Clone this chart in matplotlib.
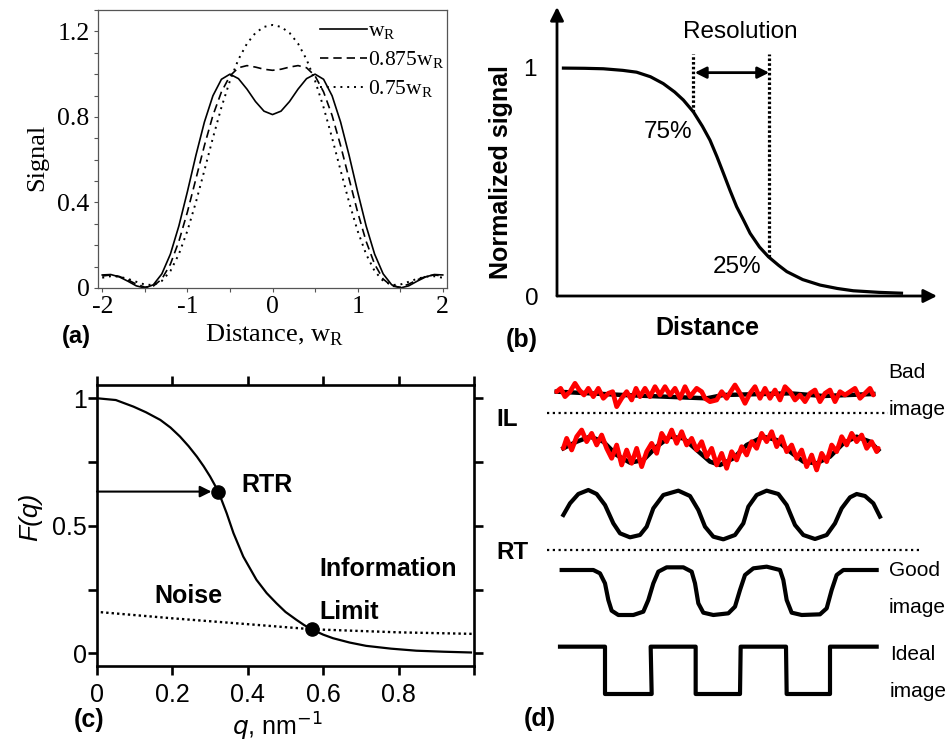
import matplotlib
matplotlib.use("Agg")
import matplotlib.pyplot as plt
from matplotlib.ticker import MultipleLocator

SERIF = "Liberation Serif"
SANS = "Liberation Sans"
plt.rcParams["font.family"] = SANS

W, H = 948, 746

# ---- (a) signal of two point sources, three separations ----
a_dist = [-2.0, -1.9, -1.8, -1.7, -1.6, -1.5, -1.4, -1.3, -1.2, -1.1, -1.0,
          -0.9, -0.8, -0.7, -0.6, -0.5, -0.4, -0.3, -0.2, -0.1, 0.0,
          0.1, 0.2, 0.3, 0.4, 0.5, 0.6, 0.7, 0.8, 0.9, 1.0,
          1.1, 1.2, 1.3, 1.4, 1.5, 1.6, 1.7, 1.8, 1.9, 2.0]
a_wr = [0.061, 0.063, 0.052, 0.032, 0.010, 0.000, 0.015, 0.066, 0.158, 0.290, 0.450,
        0.620, 0.776, 0.899, 0.976, 1.000, 0.979, 0.930, 0.872, 0.827, 0.811,
        0.827, 0.872, 0.930, 0.979, 1.000, 0.976, 0.899, 0.776, 0.620, 0.450,
        0.290, 0.158, 0.066, 0.015, 0.000, 0.010, 0.032, 0.052, 0.063, 0.061]
a_w0875 = [0.056, 0.061, 0.054, 0.038, 0.018, 0.004, 0.009, 0.042, 0.111, 0.218, 0.355,
           0.510, 0.666, 0.807, 0.917, 0.992, 1.030, 1.040, 1.033, 1.023, 1.018,
           1.023, 1.033, 1.040, 1.030, 0.992, 0.917, 0.807, 0.666, 0.510, 0.355,
           0.218, 0.111, 0.042, 0.009, 0.004, 0.018, 0.038, 0.054, 0.061, 0.056]
a_w075 = [0.048, 0.055, 0.053, 0.043, 0.029, 0.016, 0.014, 0.033, 0.079, 0.158, 0.267,
          0.401, 0.550, 0.702, 0.845, 0.969, 1.069, 1.143, 1.193, 1.221, 1.230,
          1.221, 1.193, 1.143, 1.069, 0.969, 0.845, 0.702, 0.550, 0.401, 0.267,
          0.158, 0.079, 0.033, 0.014, 0.016, 0.029, 0.043, 0.053, 0.055, 0.048]
a_labels = [r"w$_\mathregular{R}$", r"0.875w$_\mathregular{R}$", r"0.75w$_\mathregular{R}$"]

# ---- (b) edge profile ----
b_dist = [0.14, 0.8, 1.34, 1.9, 2.30, 2.7, 3.07, 3.4, 3.65, 3.94, 4.2, 4.42, 4.62, 4.81,
          5.0, 5.19, 5.4, 5.58, 5.85, 6.11, 6.4, 6.64, 7.1, 7.6, 8.1, 8.56, 9.3, 10.0]
b_signal = [1.0, 0.999, 0.997, 0.99, 0.982, 0.962, 0.932, 0.895, 0.86, 0.808, 0.745, 0.684,
            0.612, 0.538, 0.463, 0.392, 0.33, 0.275, 0.215, 0.172, 0.135, 0.107, 0.072,
            0.048, 0.033, 0.023, 0.016, 0.012]
b_marks_x = [3.94, 6.13]      # 75% and 25% points
b_marks_y = [0.808, 0.172]
b_marks_txt = ["75%", "25%"]

# ---- (c) transfer function ----
c_q = [0.0, 0.05, 0.097, 0.13, 0.168, 0.195, 0.22, 0.243, 0.265, 0.283, 0.30, 0.322,
       0.344, 0.362, 0.388, 0.423, 0.45, 0.476, 0.50, 0.529, 0.55, 0.569, 0.60,
       0.626, 0.67, 0.714, 0.78, 0.847, 0.92, 0.992]
c_F = [1.0, 0.993, 0.967, 0.945, 0.915, 0.885, 0.85, 0.812, 0.771, 0.733, 0.693, 0.634,
       0.549, 0.471, 0.379, 0.288, 0.236, 0.196, 0.162, 0.131, 0.110, 0.094, 0.073,
       0.059, 0.042, 0.029, 0.018, 0.010, 0.006, 0.003]
c_noise_q = [0.01, 0.2, 0.4, 0.571, 0.8, 0.996]
c_noise_F = [0.161, 0.137, 0.114, 0.094, 0.082, 0.076]
c_pts_q = [0.322, 0.571]     # RTR, information limit
c_pts_F = [0.634, 0.094]

# ---- (d) sketched line profiles (arbitrary units, y downward) ----
d_bad1_x = [200, 400, 650, 700, 900, 1000, 1150]
d_bad1_y = [65, 75, 85, 75, 70, 78, 72]
d_noise1_x = [200, 212, 225, 240, 255, 268, 282, 295, 310, 325,
              340, 355, 368, 380, 395, 410, 425, 438, 450, 465,
              480, 495, 510, 525, 540, 555, 570, 585, 600, 620,
              635, 645, 660, 680, 695, 710, 722, 735, 750, 765,
              780, 795, 810, 825, 840, 855, 870, 885, 900, 915,
              930, 945, 960, 975, 990, 1005, 1020, 1035, 1050, 1065,
              1080, 1095, 1110, 1125, 1140, 1150]
d_noise1_y = [65, 55, 80, 65, 40, 60, 75, 55, 80, 55,
              85, 70, 65, 110, 85, 65, 90, 55, 80, 55,
              80, 50, 75, 50, 75, 55, 85, 50, 80, 55,
              65, 85, 95, 90, 65, 85, 65, 45, 70, 100,
              70, 50, 85, 55, 85, 60, 90, 50, 65, 90,
              75, 95, 70, 60, 95, 70, 60, 95, 65, 75,
              65, 55, 85, 70, 55, 75]
d_bad2_x = [220, 260, 300, 340, 380, 420, 460, 500, 540, 580, 620, 660, 690,
            730, 770, 820, 860, 900, 940, 980, 1020, 1060, 1100, 1140, 1165]
d_bad2_y = [235, 215, 200, 215, 255, 278, 270, 230, 200, 205, 240, 275, 285,
            265, 225, 200, 210, 245, 275, 280, 260, 220, 200, 215, 240]
d_noise2_x = [220, 230, 245, 260, 275, 290, 305, 320, 335, 350,
              365, 380, 395, 410, 425, 440, 455, 470, 485, 500,
              515, 530, 545, 560, 575, 590, 605, 620, 635, 650,
              665, 680, 695, 710, 725, 740, 755, 770, 785, 800,
              815, 830, 845, 860, 875, 890, 905, 920, 935, 950,
              965, 980, 995, 1010, 1025, 1040, 1055, 1070, 1085, 1100,
              1115, 1130, 1145, 1160, 1165]
d_noise2_y = [235, 205, 240, 200, 180, 215, 190, 225, 195, 235,
              265, 225, 285, 240, 280, 235, 290, 245, 220, 250,
              190, 215, 180, 220, 185, 225, 205, 240, 215, 260,
              235, 285, 250, 295, 245, 270, 230, 255, 215, 235,
              190, 215, 185, 230, 200, 245, 225, 265, 240, 290,
              255, 300, 250, 275, 225, 245, 200, 225, 190, 215,
              195, 235, 215, 245, 235]
d_sin_x = [220, 240, 265, 295, 320, 345, 370, 390, 420, 450, 470, 490, 520, 565,
           600, 625, 645, 670, 700, 735, 760, 775, 800, 830, 865, 890, 915, 940,
           975, 1010, 1035, 1055, 1080, 1100, 1125, 1150, 1170]
d_sin_y = [435, 400, 372, 360, 372, 405, 460, 490, 502, 495, 470, 415, 375, 362,
           378, 420, 470, 500, 508, 495, 460, 410, 375, 362, 372, 405, 465, 495,
           507, 495, 460, 415, 382, 372, 378, 400, 440]
d_good_x = [215, 310, 330, 345, 355, 365, 385, 430, 460, 475, 490, 505, 530, 580,
            605, 615, 625, 640, 670, 715, 735, 750, 765, 790, 830, 870, 880, 890,
            905, 935, 990, 1010, 1025, 1040, 1060, 1160]
d_good_y = [600, 600, 610, 640, 690, 722, 735, 735, 725, 690, 640, 605, 592, 592,
            605, 640, 700, 728, 735, 730, 710, 660, 615, 595, 590, 600, 630, 690,
            728, 735, 733, 715, 660, 615, 600, 600]
d_ideal_x = [210, 345, 345, 485, 482, 617, 617, 750, 752, 888, 890, 1020, 1020, 1160]
d_ideal_y = [830, 830, 972, 972, 830, 830, 972, 972, 830, 830, 972, 972, 830, 830]
d_levels_y = [130, 540]
d_levels_x1 = [1195, 1295]
d_levels_txt = ["IL", "RT"]
d_levels_txt_y = [150, 547]

fig = plt.figure(figsize=(W / 100, H / 100), dpi=100)


def px_axes(l, t, r, b):
    return fig.add_axes([l / W, 1 - b / H, (r - l) / W, (b - t) / H])


def ftext(x, y, s, **kw):
    fig.text(x / W, 1 - y / H, s, ha="center", va="center", **kw)


# (a)
ax = px_axes(98, 10, 447, 288)
ax.plot(a_dist, a_wr, color="k", lw=1.2, label=a_labels[0])
ax.plot(a_dist, a_w0875, color="k", lw=1.2, ls=(0, (5, 3)), label=a_labels[1])
ax.plot(a_dist, a_w075, color="k", lw=1.4, ls=(0, (1, 2.5)), label=a_labels[2])
ax.set_xlim(-2.05, 2.05)
ax.set_ylim(0, 1.3)
ax.set_xticks([-2, -1, 0, 1, 2])
ax.set_xticklabels(["-2", "-1", "0", "1", "2"], fontfamily=SERIF)
ax.set_yticks([0, 0.4, 0.8, 1.2])
ax.set_yticklabels(["0", "0.4", "0.8", "1.2"], fontfamily=SERIF)
ax.xaxis.set_minor_locator(MultipleLocator(0.5))
ax.yaxis.set_minor_locator(MultipleLocator(0.1))
ax.tick_params(which="both", direction="out", length=3, width=0.8, color="#555",
               labelsize=18.5, pad=3)
for sp in ax.spines.values():
    sp.set_color("#555")
    sp.set_linewidth(0.9)
ax.legend(loc="upper right", bbox_to_anchor=(1.005, 0.975), frameon=False,
          prop={"family": SERIF, "size": 15.5}, handlelength=2.2,
          handletextpad=0.05, labelspacing=0.35, borderaxespad=0.0, borderpad=0.2)
ftext(37, 157, "Signal", rotation=90, family=SERIF, size=19)
ftext(275, 335, r"Distance, w$_\mathregular{R}$", family=SERIF, size=19)
ftext(76, 337, "(a)", weight="bold", size=17)

# (b)
axb = px_axes(557, 7, 937, 296)
axb.set_xlim(0, 10.98)
axb.set_ylim(0, 1.268)
axb.axis("off")
arrow = dict(arrowstyle="-|>", lw=2.0, color="k", mutation_scale=20, shrinkA=0, shrinkB=0)
axb.annotate("", xy=(10.98, 0), xytext=(0, 0), arrowprops=arrow, annotation_clip=False)
axb.annotate("", xy=(0, 1.268), xytext=(0, 0), arrowprops=arrow, annotation_clip=False)
axb.plot(b_dist, b_signal, color="k", lw=2.3, solid_capstyle="butt")
for x, y in zip(b_marks_x, b_marks_y):
    axb.plot([x, x], [y, 1.06], color="k", lw=2.3, ls=(0, (0.8, 0.7)))
axb.annotate("", xy=(b_marks_x[1], 0.98), xytext=(b_marks_x[0], 0.98),
             arrowprops=dict(arrowstyle="<|-|>", lw=2.0, color="k", mutation_scale=17,
                             shrinkA=1, shrinkB=0))
axb.text(5.29, 1.158, "Resolution", ha="center", va="center", size=17.5)
axb.text(3.21, 0.72, b_marks_txt[0], ha="center", va="center", size=17.5)
axb.text(5.20, 0.127, b_marks_txt[1], ha="center", va="center", size=17.5)
axb.text(-0.78, 0.99, "1", ha="center", va="center", size=17.5)
axb.text(-0.72, -0.013, "0", ha="center", va="center", size=17.5)
ftext(501, 172, "Normalized signal", rotation=90, weight="bold", size=18)
ftext(707, 328, "Distance", weight="bold", size=18)
ftext(522, 340, "(b)", weight="bold", size=18)

# (c)
axc = px_axes(97, 385, 474, 666)
axc.plot(c_q, c_F, color="k", lw=1.6)
axc.plot(c_noise_q, c_noise_F, color="k", lw=1.7, ls=(0, (1, 1.3)))
axc.annotate("", xy=(c_pts_q[0], c_pts_F[0]), xytext=(0, c_pts_F[0]),
             arrowprops=dict(arrowstyle="-|>", lw=1.5, color="k", mutation_scale=17,
                             shrinkA=0, shrinkB=5))
axc.scatter(c_pts_q, c_pts_F, s=90, color="k", zorder=3)
axc.set_xlim(0, 1.0)
axc.set_ylim(-0.05, 1.052)
axc.set_xticks([0, 0.2, 0.4, 0.6, 0.8, 1.0])
axc.set_xticklabels(["0", "0.2", "0.4", "0.6", "0.8", ""])
axc.set_yticks([0, 0.25, 0.5, 0.75, 1.0])
axc.set_yticklabels(["0", "", "0.5", "", "1"])
axc.tick_params(axis="x", direction="out", length=6.5, width=1.9, top=True,
                labelsize=18, pad=6)
axc.tick_params(axis="y", direction="out", length=6.5, width=1.9, right=True,
                labelsize=18, pad=1)
for sp in axc.spines.values():
    sp.set_linewidth(1.9)
axc.text(0.45, 0.659, "RTR", ha="center", va="center", weight="bold", size=18)
axc.text(0.243, 0.225, "Noise", ha="center", va="center", weight="bold", size=18)
axc.text(0.591, 0.331, "Information", ha="left", va="center", weight="bold", size=18)
axc.text(0.591, 0.163, "Limit", ha="left", va="center", weight="bold", size=18)
ftext(30, 517, "F(q)", rotation=90, style="italic", size=19)
ftext(277, 727, r"$q$, nm$^{-1}$", size=18, math_fontfamily="dejavusans")
ftext(89, 720, "(c)", weight="bold", size=18)

# (d)
axd = px_axes(490, 370, 948, 746)
axd.set_xlim(0, 1374)
axd.set_ylim(1128, 0)
axd.axis("off")
axd.plot(d_bad1_x, d_bad1_y, color="k", lw=3.2)
axd.plot(d_noise1_x, d_noise1_y, color="red", lw=3.4, solid_joinstyle="round",
         solid_capstyle="round")
axd.plot(d_bad2_x, d_bad2_y, color="k", lw=3.2)
axd.plot(d_noise2_x, d_noise2_y, color="red", lw=3.4, solid_joinstyle="round",
         solid_capstyle="round")
axd.plot(d_sin_x, d_sin_y, color="k", lw=3.0, solid_joinstyle="round")
axd.plot(d_good_x, d_good_y, color="k", lw=3.0, solid_joinstyle="round")
axd.plot(d_ideal_x, d_ideal_y, color="k", lw=3.0)
for y, x1, s, ty in zip(d_levels_y, d_levels_x1, d_levels_txt, d_levels_txt_y):
    axd.plot([170, x1], [y, y], color="k", lw=1.6, ls=(0, (1, 1.6)))
    axd.text(20, ty, s, ha="left", va="center", weight="bold", size=17.5)
for x, y, s in [(1195, 8, "Bad"), (1195, 118, "image"), (1197, 603, "Good"),
                (1197, 713, "image"), (1200, 855, "Ideal"), (1200, 965, "image")]:
    axd.text(x, y, s, ha="left", va="center", size=15, clip_on=False)
ftext(540, 719, "(d)", weight="bold", size=18)

fig.savefig("out.png", dpi=100)
